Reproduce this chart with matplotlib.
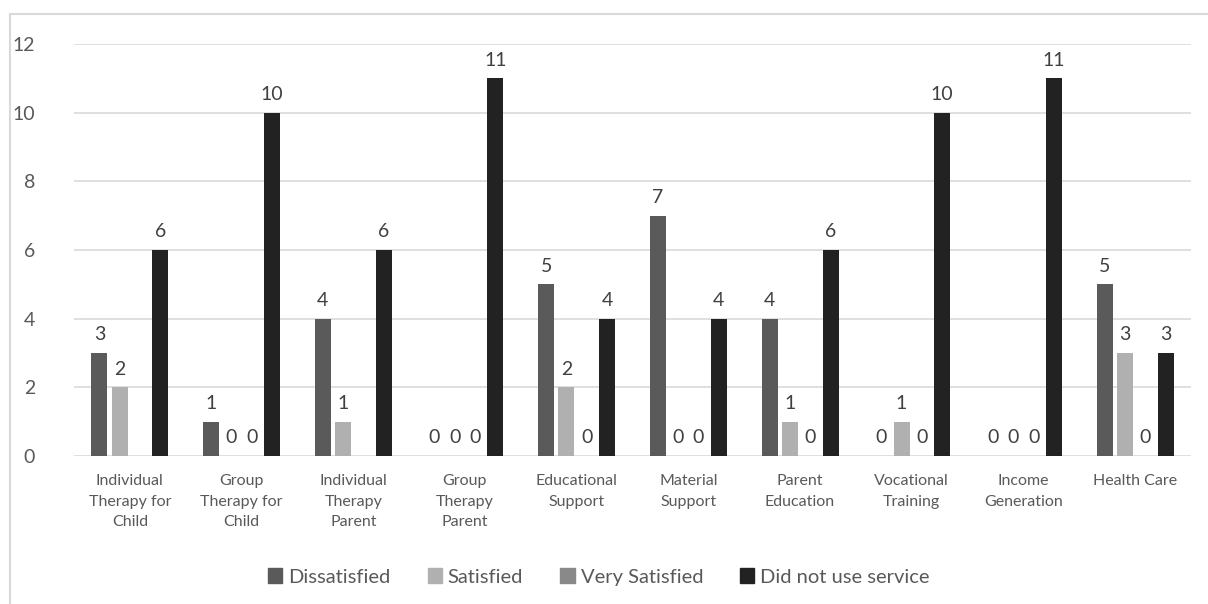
import numpy as np
import matplotlib
matplotlib.use("Agg")
import matplotlib.pyplot as plt
from matplotlib.lines import Line2D

plt.rcParams['font.family'] = ['Lato', 'DejaVu Sans']

categories = [
    "Individual\nTherapy for\nChild",
    "Group\nTherapy for\nChild",
    "Individual\nTherapy\nParent",
    "Group\nTherapy\nParent",
    "Educational\nSupport",
    "Material\nSupport",
    "Parent\nEducation",
    "Vocational\nTraining",
    "Income\nGeneration",
    "Health Care",
]
series_names = ["Dissatisfied", "Satisfied", "Very Satisfied", "Did not use service"]
dissatisfied = [3, 1, 4, 0, 5, 7, 4, 0, 0, 5]
satisfied = [2, 0, 1, 0, 2, 0, 1, 1, 0, 3]
very_satisfied = [np.nan, 0, np.nan, 0, 0, 0, 0, 0, 0, 0]
did_not_use = [6, 10, 6, 11, 4, 4, 6, 10, 11, 3]
y_ticks = [0, 2, 4, 6, 8, 10, 12]

colors = ["#5a5a5a", "#b0b0b0", "#898989", "#222222"]
text_color = "#595959"

fig = plt.figure(figsize=(12.08, 6.04), dpi=100)
ax = fig.add_axes([74 / 1208, 1 - 456 / 604, (1191 - 74) / 1208, (456 - 44) / 604])

x = np.arange(len(categories))
slot = 0.182
width = 0.143
all_series = [dissatisfied, satisfied, very_satisfied, did_not_use]
for i, (name, vals, c) in enumerate(zip(series_names, all_series, colors)):
    vals = np.array(vals, dtype=float)
    pos = x + (i - 1.5) * slot
    ax.bar(pos, np.nan_to_num(vals), width=width, color=c, label=name, zorder=3)
    for xp, v in zip(pos, vals):
        if np.isnan(v):
            continue
        ax.annotate(f"{int(v)}", (xp, v), xytext=(0, 7), textcoords="offset points",
                    ha="center", va="bottom", fontsize=14, color="#404040")

ax.set_xlim(-0.5, len(categories) - 0.5)
ax.set_ylim(0, 12)
ax.set_yticks(y_ticks)
ax.set_xticks(x)
ax.set_xticklabels(categories, fontsize=11.5, color=text_color, linespacing=1.6)
ax.tick_params(axis="y", labelsize=14, labelcolor=text_color, length=0, pad=28)
ax.tick_params(axis="x", length=0, pad=13)
ax.grid(axis="y", color="#d9d9d9", linewidth=1.2, zorder=0)
for s in ax.spines.values():
    s.set_visible(False)

# outer chart frame
fig.add_artist(Line2D([10 / 1208, 1], [1 - 14 / 604, 1 - 14 / 604], color="#d9d9d9", lw=1.5))
fig.add_artist(Line2D([10 / 1208, 10 / 1208], [0, 1 - 14 / 604], color="#d9d9d9", lw=1.5))

handles = [plt.Rectangle((0, 0), 1, 1, color=c) for c in colors]
fig.legend(handles, series_names, loc="center", bbox_to_anchor=(599 / 1208, 1 - 577 / 604),
           ncol=4, frameon=False, fontsize=14.5, handlelength=0.7, handleheight=0.7,
           handletextpad=0.3, columnspacing=1.85, labelcolor=text_color)

fig.savefig("out.png", dpi=100)
